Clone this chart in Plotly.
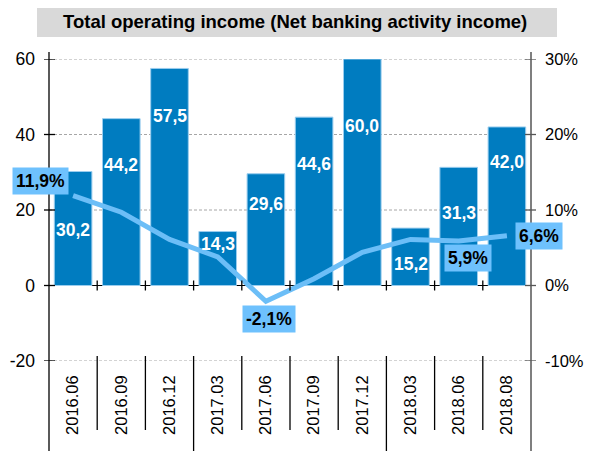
import plotly.graph_objects as go

# ---- data ----
categories = ["2016.06", "2016.09", "2016.12", "2017.03", "2017.06",
              "2017.09", "2017.12", "2018.03", "2018.06", "2018.08"]
income = [30.2, 44.2, 57.5, 14.3, 29.6, 44.6, 60.0, 15.2, 31.3, 42.0]
growth_pct = [11.9, 9.7, 6.1, 3.8, -2.1, 0.9, 4.4, 6.1, 5.9, 6.6]
left_ticks = [-20, 0, 20, 40, 60]
right_ticks = [-10, 0, 10, 20, 30]
left_tick_text = ["-20", "0", "20", "40", "60"]
right_tick_text = ["-10%", "0%", "10%", "20%", "30%"]
title_text = "Total operating income (Net banking activity income)"

# ---- style ----
OFF = 8  # page body margin offset
W, H = 595 - OFF, 451 - OFF
# screen-space plot box: x 49..531, y 59..361
SX0, SX1, SY0, SY1 = 49, 531, 59, 361
ML, MT = SX0 - OFF, SY0 - OFF
MR, MB = W - (SX1 - OFF), H - (SY1 - OFF)
PW, PH = SX1 - SX0, SY1 - SY0
FONT = "Liberation Sans, Arial, sans-serif"
BAR = "#007CC0"
LINE = "#6CBEF7"
BOX = "#6EC1FD"
GRID = "#A6A6A6"

def px_x(p):
    return (p - SX0) / PW

def px_y(p):
    return (SY1 - p) / PH

pos = list(range(len(categories)))

# label drop below bar top (px), and line label offsets (px)
bar_label_drop = [58, 46, 48, 12, 30, 47, 67, 36, 46, 35]
line_label_idx = [0, 4, 8, 9]
line_label_shift = {0: (-33, 15), 4: (3, -18), 8: (9, -17), 9: (32, 0)}

fig = go.Figure()
fig.add_trace(go.Bar(
    x=pos, y=income, marker=dict(color=BAR, line=dict(color="#9ACDEE", width=1)),
    yaxis="y", hoverinfo="skip", showlegend=False))
fig.add_trace(go.Scatter(
    x=pos, y=growth_pct, yaxis="y2", mode="lines",
    line=dict(color=LINE, width=5), hoverinfo="skip", showlegend=False))

ann = []
for p, v, d in zip(pos, income, bar_label_drop):
    ann.append(dict(x=p, y=v, xref="x", yref="y", yshift=-d, yanchor="middle",
                    text=f"{v:.1f}".replace(".", ","), showarrow=False,
                    font=dict(family=FONT, size=17.5, color="white", weight="bold")))
for i in line_label_idx:
    dx, dy = line_label_shift[i]
    ann.append(dict(x=pos[i], y=growth_pct[i], xref="x", yref="y2",
                    xshift=dx, yshift=dy, yanchor="middle",
                    text=f"{growth_pct[i]:.1f}".replace(".", ",") + "%", showarrow=False,
                    bgcolor=BOX, borderpad=3,
                    font=dict(family=FONT, size=17.5, color="black", weight="bold")))
ann.append(dict(x=px_x(295), y=px_y(22), xref="paper", yref="paper",
                text=title_text, showarrow=False, xanchor="center", yanchor="middle",
                font=dict(family=FONT, size=18.5, color="black", weight="bold")))

shapes = []
# title box
shapes.append(dict(type="rect", xref="paper", yref="paper", x0=px_x(37), x1=px_x(557),
                   y0=px_y(37), y1=px_y(7), fillcolor="#D9D9D9", line=dict(width=0), layer="below"))
# dashed gridlines (including the edges of the range)
for v in left_ticks:
    if v == 0:
        continue
    shapes.append(dict(type="line", xref="paper", yref="y", x0=0, x1=1, y0=v, y1=v,
                       line=dict(color=GRID, width=1, dash="3px,2px"), layer="below"))
# axis lines extended
shapes.append(dict(type="line", xref="paper", yref="paper", x0=0, x1=0,
                   y0=px_y(455), y1=px_y(52), line=dict(color="black", width=1.3)))
shapes.append(dict(type="line", xref="paper", yref="paper", x0=1, x1=1,
                   y0=px_y(455), y1=px_y(52), line=dict(color="#7F7F7F", width=2)))
# crossing ticks on y axes
for v in left_ticks:
    shapes.append(dict(type="line", xref="paper", yref="y", xsizemode="pixel", xanchor=0,
                       x0=-5, x1=6, y0=v, y1=v, line=dict(color="black", width=1.3)))
for v in right_ticks:
    shapes.append(dict(type="line", xref="paper", yref="y2", xsizemode="pixel", xanchor=1,
                       x0=-6, x1=5, y0=v, y1=v, line=dict(color="#555555", width=1.3)))
# category boundary ticks on zero line and on bottom line, plus separators below
for k in range(1, len(categories)):
    b = k - 0.5
    shapes.append(dict(type="line", xref="x", yref="y", ysizemode="pixel", yanchor=0,
                       x0=b, x1=b, y0=-5, y1=5, line=dict(color="black", width=1.3)))
    bottom = 455 if k in (3, 7) else 430
    shapes.append(dict(type="line", xref="x", yref="paper", x0=b, x1=b,
                       y0=px_y(bottom), y1=px_y(356), line=dict(color="black", width=1.3)))

fig.update_layout(
    width=W, height=H, margin=dict(l=ML, r=MR, t=MT, b=MB, autoexpand=False),
    paper_bgcolor="white", plot_bgcolor="white",
    bargap=0.22, showlegend=False,
    font=dict(family=FONT, size=17, color="black"),
    xaxis=dict(type="linear", range=[-0.5, len(categories) - 0.5], tickvals=pos,
               ticktext=categories, tickangle=-90, ticks="", showline=False,
               showgrid=False, zeroline=False, automargin=False,
               tickfont=dict(size=16.5), ticklabelstandoff=10, fixedrange=True),
    yaxis=dict(range=[-20, 60], tickvals=left_ticks, ticktext=left_tick_text, ticks="",
               showline=False, automargin=False, showgrid=False,
               zeroline=True, zerolinecolor="black", zerolinewidth=1.3,
               tickfont=dict(size=17.5), ticklabelstandoff=13),
    yaxis2=dict(range=[-10, 30], tickvals=right_ticks, ticktext=right_tick_text,
                overlaying="y", automargin=False,
                side="right", ticks="", showline=False, showgrid=False, zeroline=False,
                tickfont=dict(size=16.5), ticklabelstandoff=13),
    annotations=ann, shapes=shapes,
)
fig.write_html("out.html")
